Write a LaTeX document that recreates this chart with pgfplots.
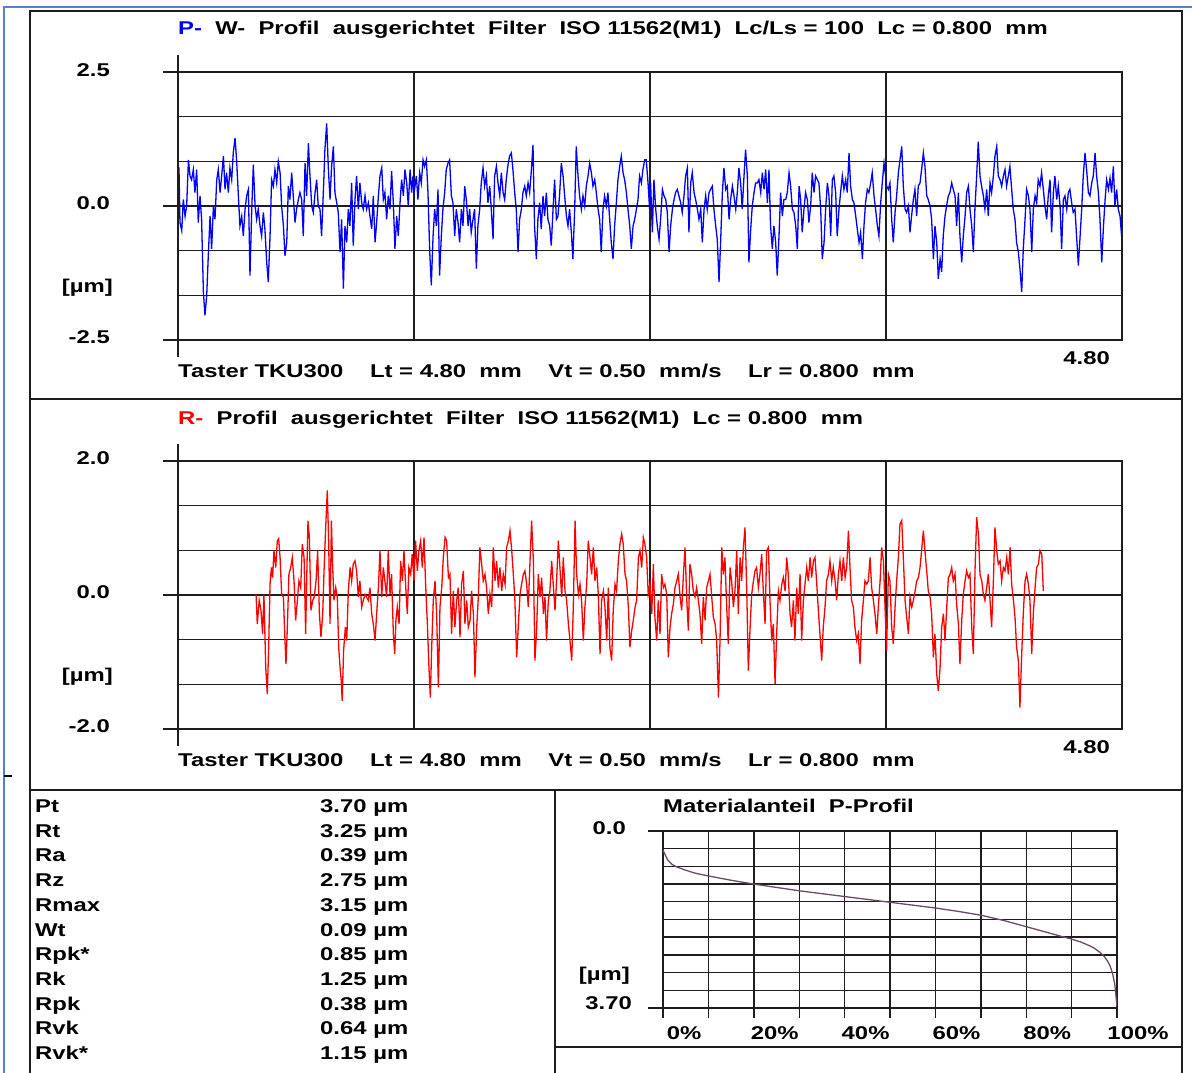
\documentclass[border=0pt]{standalone}
\usepackage{pgfplots}
\pgfplotsset{compat=1.18}
\usepackage{fontspec}
\setmainfont{Liberation Sans}[FakeStretch=1.29]
\definecolor{frameblue}{RGB}{84,130,196}
\definecolor{gridc}{RGB}{30,30,30}
\definecolor{matc}{RGB}{105,75,105}
\definecolor{pblue}{RGB}{0,0,250}
\definecolor{rred}{RGB}{255,0,0}

\begin{document}
\begin{tikzpicture}[font=\bfseries\fontsize{18.5}{22}\selectfont]
\useasboundingbox (0,0) rectangle (1192pt,1073pt);
\fill[white] (0,0) rectangle (1192pt,1073pt);

\pgfplotsset{prof/.style={scale only axis, anchor=south west, width=944pt, height=268pt,
  xmin=0, xmax=4.8, xtick={1.2,2.4,3.6}, xticklabels={}, yticklabels={},
  major tick length=0pt, grid=major, major grid style={gridc, line width=1.6pt},
  axis line style={gridc, line width=1.6pt}, clip=true}}

% ---------------- P profile ----------------
\begin{axis}[prof, at={(178pt,733pt)}, ymin=-2.5, ymax=2.5, ytick={-1.6667,-0.8333,0,0.8333,1.6667}]
\addplot[pblue, line width=1.3pt] coordinates {
(0.000,0.74) (0.005,0.71) (0.010,-0.31) (0.019,-0.46) (0.027,0.12) (0.036,-0.19) (0.044,0.00) (0.053,0.86) (0.061,0.56) (0.069,0.49) (0.078,0.68) (0.086,0.25) (0.095,0.68) (0.103,-0.31) (0.112,0.19) (0.120,-0.25) (0.129,-1.60) (0.137,-2.04) (0.146,-1.67) (0.154,-0.93) (0.163,-0.19) (0.171,-0.80) (0.180,0.00) (0.188,-0.25) (0.197,0.49) (0.205,0.68) (0.214,0.25) (0.222,0.56) (0.231,0.93) (0.239,0.31) (0.247,0.62) (0.256,0.25) (0.264,0.71) (0.273,0.49) (0.281,0.99) (0.290,1.27) (0.298,0.86) (0.307,0.19) (0.315,-0.37) (0.324,-0.19) (0.332,-0.56) (0.341,-0.06) (0.349,0.19) (0.358,0.31) (0.366,-1.30) (0.375,-0.06) (0.383,0.77) (0.392,0.00) (0.400,-0.25) (0.408,-0.06) (0.417,-0.37) (0.425,-0.56) (0.434,-0.12) (0.442,-0.43) (0.451,-1.05) (0.459,-1.42) (0.468,-0.56) (0.476,0.49) (0.485,0.37) (0.493,0.68) (0.502,0.43) (0.510,0.83) (0.519,0.62) (0.527,0.00) (0.536,-0.37) (0.544,-0.93) (0.553,-0.68) (0.561,0.37) (0.569,0.12) (0.578,0.62) (0.586,0.19) (0.595,-0.31) (0.603,-0.06) (0.612,0.12) (0.620,0.25) (0.629,0.12) (0.637,-0.56) (0.646,0.80) (0.654,0.19) (0.663,1.17) (0.671,0.56) (0.680,0.00) (0.688,-0.12) (0.697,0.25) (0.705,0.49) (0.713,0.00) (0.722,-0.06) (0.730,-0.56) (0.739,0.25) (0.747,1.05) (0.756,1.54) (0.764,0.74) (0.773,0.12) (0.781,0.74) (0.790,1.11) (0.798,0.25) (0.807,0.06) (0.815,-0.12) (0.824,-0.86) (0.832,-0.25) (0.841,-1.54) (0.849,-0.37) (0.858,-0.68) (0.866,-0.06) (0.874,-0.37) (0.883,0.43) (0.891,-0.74) (0.900,0.12) (0.908,0.56) (0.917,-0.06) (0.925,0.43) (0.934,0.06) (0.942,-0.06) (0.951,0.19) (0.959,-0.06) (0.968,0.06) (0.976,-0.19) (0.985,-0.43) (0.993,0.19) (1.002,-0.68) (1.010,-0.31) (1.019,0.19) (1.027,0.56) (1.036,0.71) (1.044,0.12) (1.052,0.25) (1.061,-0.25) (1.069,0.19) (1.078,-0.06) (1.086,0.65) (1.095,0.06) (1.103,-0.80) (1.112,-0.19) (1.120,-0.56) (1.129,0.06) (1.137,0.49) (1.146,0.19) (1.154,0.68) (1.163,0.43) (1.171,0.00) (1.180,0.68) (1.188,0.25)
(1.195,0.56) (1.203,0.31) (1.212,0.56) (1.220,0.12) (1.229,0.62) (1.237,0.43) (1.246,0.86) (1.254,0.74) (1.263,0.86) (1.271,0.25) (1.280,-0.86) (1.288,-1.48) (1.297,-0.56) (1.305,-0.06) (1.314,-0.37) (1.322,0.31) (1.330,-1.30) (1.339,-0.56) (1.347,-0.06) (1.356,0.25) (1.364,0.68) (1.373,0.80) (1.381,0.86) (1.390,0.19) (1.398,0.06) (1.407,-0.56) (1.415,-0.06) (1.424,-0.31) (1.432,-0.68) (1.441,-0.06) (1.449,-0.37) (1.458,0.37) (1.466,0.12) (1.475,-0.37) (1.483,-0.06) (1.491,-0.49) (1.500,-0.25) (1.508,-0.06) (1.517,-1.17) (1.525,-0.37) (1.534,-0.06) (1.542,0.43) (1.551,0.71) (1.559,0.37) (1.568,0.56) (1.576,0.06) (1.585,0.37) (1.593,-0.06) (1.602,-0.62) (1.610,0.56) (1.619,0.74) (1.627,0.43) (1.636,0.19) (1.644,0.62) (1.653,0.25) (1.661,0.12) (1.669,0.49) (1.678,0.77) (1.686,0.93) (1.695,0.99) (1.703,0.68) (1.712,0.25) (1.720,-0.06) (1.729,-0.86) (1.737,-0.25) (1.746,-0.06) (1.754,0.25) (1.763,0.37) (1.771,0.19) (1.780,0.43) (1.788,0.25) (1.797,0.68) (1.805,1.14) (1.813,-0.37) (1.822,-0.99) (1.830,-0.25) (1.839,0.06) (1.847,-0.43) (1.856,0.19) (1.864,-0.19) (1.873,0.25) (1.881,-0.25) (1.890,-0.37) (1.898,-0.74) (1.907,-0.06) (1.915,0.49) (1.924,-0.25) (1.932,-0.19) (1.941,0.25) (1.949,0.80) (1.958,0.56) (1.966,0.19) (1.975,-0.19) (1.983,-0.37) (1.991,-0.06) (2.000,-0.49) (2.008,-0.99) (2.017,-0.06) (2.025,1.11) (2.034,0.56) (2.042,0.19) (2.051,-0.06) (2.059,0.19) (2.068,0.00) (2.076,0.37) (2.085,0.56) (2.093,0.80) (2.102,0.62) (2.110,0.37) (2.119,0.49) (2.127,0.25) (2.136,-0.06) (2.144,-0.25) (2.152,-0.86) (2.161,-0.06) (2.169,0.19) (2.178,0.00) (2.186,0.25) (2.195,-0.25) (2.203,-0.68) (2.212,-0.99) (2.220,-0.37) (2.229,0.06) (2.237,0.49) (2.246,0.74) (2.254,0.93) (2.263,0.62) (2.271,0.49) (2.280,0.25) (2.288,-0.06) (2.297,-0.37) (2.305,-0.80) (2.314,-0.37) (2.322,-0.25) (2.331,-0.06) (2.339,0.12) (2.347,0.56) (2.356,0.43) (2.364,0.68) (2.373,0.86) (2.381,0.86) (2.390,0.43) (2.398,-0.06)
(2.403,0.43) (2.412,-0.49) (2.420,0.49) (2.429,-0.06) (2.437,-0.37) (2.446,-0.62) (2.454,-0.25) (2.463,0.31) (2.471,0.19) (2.480,0.12) (2.488,-0.12) (2.497,-0.86) (2.505,-0.37) (2.514,-0.06) (2.522,0.12) (2.530,0.25) (2.539,0.31) (2.547,0.19) (2.556,0.06) (2.564,-0.12) (2.573,0.19) (2.581,0.56) (2.590,0.71) (2.598,-0.49) (2.607,0.43) (2.615,0.62) (2.624,0.25) (2.632,0.12) (2.641,-0.06) (2.649,-0.25) (2.658,-0.06) (2.666,-0.68) (2.675,-0.06) (2.683,0.19) (2.691,-0.06) (2.700,0.25) (2.708,0.31) (2.717,0.37) (2.725,-0.06) (2.734,-0.37) (2.742,-0.62) (2.751,-1.42) (2.759,-0.68) (2.768,0.25) (2.776,0.71) (2.785,0.31) (2.793,0.37) (2.802,-0.25) (2.810,0.12) (2.819,0.37) (2.827,0.19) (2.836,-0.06) (2.844,0.25) (2.852,0.71) (2.861,0.43) (2.869,-0.06) (2.878,0.56) (2.886,1.05) (2.895,0.56) (2.903,-1.05) (2.912,-0.43) (2.920,0.00) (2.929,0.25) (2.937,0.43) (2.946,0.43) (2.954,0.49) (2.963,0.25) (2.971,0.62) (2.980,0.31) (2.988,0.68) (2.997,0.06) (3.005,0.68) (3.013,-0.37) (3.022,-0.80) (3.030,-0.37) (3.039,-0.68) (3.047,-1.30) (3.056,-0.56) (3.064,0.25) (3.073,-0.19) (3.081,0.12) (3.090,0.12) (3.098,0.25) (3.107,0.62) (3.115,0.37) (3.124,-0.06) (3.132,-0.12) (3.141,-0.37) (3.149,-0.80) (3.158,0.37) (3.166,0.12) (3.174,-0.49) (3.183,-0.06) (3.191,0.25) (3.200,0.12) (3.208,-0.31) (3.217,0.00) (3.225,0.62) (3.234,0.25) (3.242,0.56) (3.251,0.49) (3.259,0.43) (3.268,-0.06) (3.276,-0.99) (3.285,-0.68) (3.293,-0.06) (3.302,0.43) (3.310,0.19) (3.319,-0.56) (3.327,0.49) (3.335,0.56) (3.344,0.25) (3.352,-0.56) (3.361,-0.06) (3.369,0.25) (3.378,0.56) (3.386,0.31) (3.395,0.49) (3.403,0.25) (3.412,0.99) (3.420,0.37) (3.429,0.12) (3.437,0.06) (3.446,-0.19) (3.454,-0.43) (3.463,-0.68) (3.471,-0.49) (3.480,-0.99) (3.488,-0.37) (3.496,0.06) (3.505,0.31) (3.513,0.25) (3.522,0.43) (3.530,0.62) (3.539,0.19) (3.547,-0.06) (3.556,-0.37) (3.564,-0.56) (3.573,0.06) (3.581,0.43) (3.590,0.80) (3.598,0.56)
(3.603,0.37) (3.612,0.31) (3.620,0.43) (3.629,-0.25) (3.637,-0.68) (3.646,-0.12) (3.654,0.19) (3.663,0.62) (3.671,0.86) (3.680,1.11) (3.688,0.37) (3.697,-0.06) (3.705,-0.12) (3.714,0.00) (3.722,-0.49) (3.730,-0.19) (3.739,0.12) (3.747,0.31) (3.756,-0.19) (3.764,0.37) (3.773,0.43) (3.781,0.68) (3.790,0.99) (3.798,0.74) (3.807,0.19) (3.815,0.12) (3.824,0.00) (3.832,-0.25) (3.841,-0.99) (3.849,-0.37) (3.858,-0.68) (3.866,-1.36) (3.875,-0.99) (3.883,-1.23) (3.891,-0.56) (3.900,-0.19) (3.908,0.00) (3.917,0.19) (3.925,0.25) (3.934,0.43) (3.942,0.31) (3.951,0.19) (3.959,-0.37) (3.968,0.25) (3.976,-0.56) (3.985,-1.05) (3.993,-0.56) (4.002,-0.19) (4.010,0.25) (4.019,0.37) (4.027,-0.06) (4.036,-0.37) (4.044,-0.86) (4.052,-0.06) (4.061,0.56) (4.069,1.20) (4.078,0.56) (4.086,0.37) (4.095,0.19) (4.103,-0.06) (4.112,0.31) (4.120,-0.19) (4.129,0.43) (4.137,0.25) (4.146,0.56) (4.154,0.93) (4.163,1.11) (4.171,0.56) (4.180,0.49) (4.188,0.37) (4.197,0.56) (4.205,0.68) (4.213,0.37) (4.222,0.56) (4.230,0.74) (4.239,0.31) (4.247,-0.06) (4.256,-0.25) (4.264,-0.68) (4.273,-0.86) (4.281,-1.17) (4.290,-1.60) (4.298,-0.80) (4.307,-0.25) (4.315,0.31) (4.324,0.19) (4.332,-0.06) (4.341,-0.86) (4.349,-0.06) (4.358,0.19) (4.366,0.06) (4.374,0.49) (4.383,0.37) (4.391,0.62) (4.400,0.31) (4.408,0.00) (4.417,-0.25) (4.425,0.19) (4.434,0.49) (4.442,-0.49) (4.451,0.25) (4.459,0.56) (4.468,0.12) (4.476,0.37) (4.485,0.00) (4.493,-0.80) (4.502,0.12) (4.510,0.19) (4.519,-0.06) (4.527,0.25) (4.535,0.31) (4.544,0.06) (4.552,-0.12) (4.561,-0.06) (4.569,-0.56) (4.578,-1.11) (4.586,-0.62) (4.595,-0.06) (4.603,0.56) (4.612,0.99) (4.620,0.68) (4.629,0.25) (4.637,0.19) (4.646,0.43) (4.654,0.56) (4.663,0.99) (4.671,0.56) (4.680,0.25) (4.688,-0.25) (4.697,-1.05) (4.705,-0.43) (4.714,0.12) (4.722,0.49) (4.731,0.31) (4.739,0.52) (4.747,0.25) (4.756,0.74) (4.764,0.00) (4.773,0.31) (4.781,-0.06) (4.790,-0.19) (4.798,-0.56)
};
\end{axis}

% ---------------- R profile ----------------
\begin{axis}[prof, at={(178pt,344pt)}, ymin=-2.0, ymax=2.0, ytick={-1.3333,-0.6667,0,0.6667,1.3333}]
\addplot[rred, line width=1.3pt] coordinates {
(0.397,0.01) (0.403,-0.43) (0.413,-0.08) (0.422,-0.23) (0.430,-0.58) (0.437,0.01) (0.446,-1.08) (0.454,-1.48) (0.461,-0.78) (0.468,0.16) (0.475,0.41) (0.481,0.26) (0.488,0.66) (0.497,0.41) (0.505,0.81) (0.512,0.84) (0.519,0.56) (0.527,0.01) (0.536,-0.03) (0.544,-0.68) (0.549,-1.03) (0.556,-0.48) (0.564,0.31) (0.573,0.41) (0.581,0.56) (0.590,0.21) (0.598,-0.38) (0.607,-0.08) (0.615,0.21) (0.624,0.11) (0.632,0.76) (0.641,0.56) (0.649,-0.58) (0.656,0.46) (0.661,1.11) (0.668,0.86) (0.676,-0.23) (0.685,-0.08) (0.693,-0.03) (0.702,0.21) (0.710,0.66) (0.719,-0.28) (0.727,-0.63) (0.736,-0.28) (0.742,0.31) (0.751,1.01) (0.759,1.56) (0.766,0.81) (0.773,-0.43) (0.780,1.11) (0.786,0.46) (0.793,-0.08) (0.802,0.11) (0.810,-0.03) (0.817,-0.78) (0.824,-1.08) (0.830,-1.28) (0.835,-1.58) (0.842,-0.83) (0.851,-0.48) (0.858,-0.68) (0.866,0.06) (0.875,0.41) (0.883,0.21) (0.891,0.46) (0.900,0.51) (0.908,0.36) (0.917,-0.03) (0.925,0.21) (0.934,-0.18) (0.942,-0.08) (0.951,0.01) (0.959,-0.03) (0.968,-0.08) (0.976,0.11) (0.985,-0.28) (0.993,-0.43) (1.002,-0.68) (1.010,-0.28) (1.019,0.11) (1.027,0.66) (1.036,-0.03) (1.044,0.41) (1.052,0.21) (1.061,-0.03) (1.069,0.66) (1.078,0.01) (1.086,0.31) (1.095,-0.58) (1.102,-0.88) (1.108,-0.38) (1.115,-0.18) (1.124,-0.43) (1.132,0.51) (1.141,0.21) (1.149,0.66) (1.158,0.11) (1.166,-0.28) (1.174,0.41) (1.183,0.31) (1.191,0.61) (1.200,0.21) (1.208,0.81) (1.217,0.36) (1.225,0.66) (1.234,0.81) (1.242,0.41) (1.251,0.86) (1.259,0.16) (1.268,-0.43) (1.276,-1.08) (1.283,-1.53) (1.290,-0.78) (1.298,-0.08) (1.307,0.21) (1.315,-0.28) (1.324,-1.38) (1.332,-0.18) (1.341,0.11) (1.349,0.56) (1.358,0.86) (1.366,0.81) (1.375,0.26) (1.383,0.31) (1.391,-0.58) (1.400,0.06) (1.408,-0.48) (1.417,-0.08) (1.425,0.11) (1.434,-0.63) (1.442,0.16) (1.451,0.36) (1.459,-0.43) (1.468,-0.08) (1.476,-0.48) (1.485,-0.38) (1.493,0.06) (1.502,-0.28) (1.510,-1.23) (1.519,-0.48) (1.527,-0.03) (1.535,0.71) (1.544,0.46) (1.552,0.21) (1.561,0.31) (1.569,0.11) (1.578,-0.28) (1.586,0.01) (1.595,-0.18) (1.603,0.71) (1.612,0.21) (1.620,0.51) (1.629,0.11) (1.637,0.41) (1.646,0.06) (1.654,0.31) (1.663,0.16) (1.671,0.71) (1.680,0.81) (1.688,0.96) (1.697,0.66) (1.705,0.31) (1.713,-0.08) (1.722,-0.93) (1.730,-0.48) (1.739,0.01) (1.747,0.16) (1.756,0.31) (1.764,0.36) (1.773,0.16) (1.781,-0.18) (1.790,0.51) (1.798,1.11) (1.807,0.51) (1.815,-0.98) (1.824,-0.48) (1.832,0.31) (1.841,-0.03) (1.849,0.26) (1.858,-0.28) (1.866,-0.03) (1.874,-0.68) (1.883,-0.08) (1.891,0.06) (1.900,0.51) (1.908,0.16) (1.917,-0.23) (1.925,0.21) (1.934,0.81) (1.942,0.41) (1.951,-0.03) (1.959,0.56) (1.968,0.06) (1.976,-0.08) (1.985,-0.43) (1.993,-0.68) (2.002,-0.98) (2.010,-0.18) (2.019,1.11) (2.027,0.31) (2.036,0.01) (2.044,0.16) (2.052,-0.08) (2.061,-0.68) (2.069,-0.18) (2.078,0.16) (2.086,0.81) (2.095,0.56) (2.103,0.31) (2.112,0.71) (2.120,0.21) (2.129,0.41) (2.137,0.01) (2.146,-0.88) (2.154,-0.08) (2.163,0.06) (2.171,-0.18) (2.180,-0.68) (2.188,0.11) (2.196,-0.78) (2.205,-0.98) (2.213,-0.23) (2.222,0.16) (2.230,0.06) (2.239,0.51) (2.247,0.76) (2.256,0.91) (2.264,0.76) (2.273,0.31) (2.281,0.21) (2.290,-0.18) (2.298,-0.78) (2.307,-0.53) (2.315,-0.38) (2.324,-0.18) (2.332,-0.08) (2.341,0.56) (2.349,0.66) (2.358,0.41) (2.366,0.86) (2.374,0.76) (2.383,0.56) (2.391,0.01)
(2.400,0.16) (2.409,-0.28) (2.417,0.46) (2.425,-0.33) (2.434,-0.68) (2.442,-0.08) (2.451,-0.58) (2.459,0.31) (2.468,0.11) (2.476,0.16) (2.485,0.01) (2.493,-0.93) (2.502,-0.48) (2.510,-0.28) (2.519,-0.13) (2.527,0.11) (2.536,0.21) (2.544,0.31) (2.553,-0.03) (2.561,-0.23) (2.570,0.31) (2.578,0.71) (2.587,-0.08) (2.595,-0.53) (2.603,0.46) (2.612,0.31) (2.620,0.06) (2.629,-0.03) (2.637,0.11) (2.646,-0.08) (2.654,-0.28) (2.663,-0.73) (2.671,-0.03) (2.680,-0.38) (2.688,0.11) (2.697,0.21) (2.705,0.31) (2.714,-0.03) (2.722,-0.33) (2.731,-0.43) (2.739,-0.68) (2.748,-1.53) (2.756,-0.68) (2.765,0.71) (2.773,0.31) (2.781,0.56) (2.790,-0.18) (2.798,-0.73) (2.807,0.41) (2.815,0.21) (2.824,-0.18) (2.832,0.06) (2.841,0.66) (2.849,-0.28) (2.858,0.56) (2.866,0.21) (2.875,0.71) (2.883,1.01) (2.892,0.06) (2.900,-1.13) (2.909,-0.48) (2.917,0.01) (2.926,0.21) (2.934,0.36) (2.942,0.41) (2.951,0.11) (2.959,0.31) (2.968,0.61) (2.976,0.06) (2.985,-0.43) (2.993,0.66) (3.002,0.71) (3.010,-0.08) (3.019,-0.68) (3.027,-0.43) (3.036,-1.33) (3.044,-0.58) (3.053,0.06) (3.061,-0.08) (3.070,0.16) (3.078,0.26) (3.087,0.06) (3.095,0.56) (3.103,0.31) (3.112,-0.28) (3.120,-0.48) (3.129,-0.08) (3.137,-0.68) (3.146,0.11) (3.154,-0.28) (3.163,0.31) (3.171,-0.68) (3.180,-0.08) (3.188,0.16) (3.197,0.41) (3.205,0.21) (3.214,0.56) (3.222,0.26) (3.231,0.51) (3.239,0.56) (3.248,0.16) (3.256,-0.23) (3.264,-0.58) (3.273,-0.98) (3.281,-0.48) (3.290,-0.18) (3.298,0.21) (3.307,0.31) (3.315,0.51) (3.324,0.21) (3.332,0.41) (3.341,0.21) (3.349,-0.08) (3.358,0.31) (3.366,0.51) (3.375,0.21) (3.383,0.56) (3.392,0.26) (3.400,0.41) (3.409,0.96) (3.417,0.41) (3.425,-0.08) (3.434,-0.18) (3.442,-0.48) (3.451,-0.68) (3.459,-0.58) (3.468,-1.03) (3.476,-0.38) (3.485,-0.08) (3.493,0.21) (3.502,0.16) (3.510,0.21) (3.519,0.56) (3.527,0.11) (3.536,-0.08) (3.544,-0.28) (3.553,-0.58) (3.561,-0.18) (3.570,0.21) (3.578,0.71) (3.587,0.51) (3.595,-0.18) (3.603,-0.83) (3.612,0.31) (3.620,0.21) (3.629,-0.48) (3.637,-0.73) (3.646,-0.18) (3.654,0.21) (3.663,0.56) (3.671,1.06) (3.680,1.11) (3.688,0.56) (3.697,-0.08) (3.705,-0.33) (3.714,-0.58) (3.722,-0.03) (3.731,-0.18) (3.739,-0.08) (3.748,0.06) (3.756,0.21) (3.765,0.26) (3.773,0.41) (3.781,0.66) (3.790,0.96) (3.798,0.66) (3.807,0.36) (3.815,0.06) (3.824,-0.03) (3.832,-0.28) (3.841,-0.93) (3.849,-0.58) (3.858,-1.18) (3.866,-1.43) (3.875,-1.08) (3.883,-0.48) (3.892,-0.28) (3.900,-0.68) (3.909,-0.18) (3.917,0.26) (3.926,0.31) (3.934,0.41) (3.942,0.21) (3.951,0.31) (3.959,-0.13) (3.968,-0.43) (3.976,-1.03) (3.985,-0.38) (3.993,0.01) (4.002,0.21) (4.010,0.36) (4.019,0.26) (4.027,0.31) (4.036,-0.48) (4.044,-0.88) (4.053,0.41) (4.061,1.16) (4.070,0.91) (4.078,0.31) (4.087,0.21) (4.095,0.01) (4.103,-0.08) (4.112,0.11) (4.120,0.31) (4.129,-0.08) (4.137,-0.48) (4.146,0.21) (4.154,1.01) (4.163,0.66) (4.171,0.46) (4.180,0.51) (4.188,0.21) (4.197,0.41) (4.205,0.36) (4.214,0.56) (4.222,0.31) (4.231,0.71) (4.239,0.16) (4.248,-0.08) (4.256,-0.33) (4.264,-0.78) (4.273,-0.98) (4.281,-1.68) (4.290,-0.88) (4.298,-0.28) (4.307,0.21) (4.315,0.31) (4.324,0.16) (4.332,-0.08) (4.341,-0.88) (4.349,-0.28) (4.358,0.11) (4.366,0.41) (4.375,0.46) (4.383,0.66) (4.392,0.61) (4.400,0.06)
};
\end{axis}

% ---------------- Material ratio ----------------
\begin{axis}[scale only axis, anchor=south west, at={(663pt,65pt)}, width=454pt, height=177pt,
  xmin=0, xmax=100, ymin=0, ymax=3.7, y dir=reverse,
  xtick={10,20,30,40,50,60,70,80,90}, ytick={0.37,0.74,1.11,1.48,1.85,2.22,2.59,2.96,3.33},
  xticklabels={}, yticklabels={}, major tick length=0pt, grid=major,
  major grid style={gridc, line width=1.4pt}, axis line style={gridc, line width=1.4pt}]
\addplot[matc, line width=1.3pt] coordinates {
(0,0.40) (0.5,0.50) (1,0.60) (2,0.70) (3,0.75) (5,0.82) (7,0.88) (10,0.94) (15,1.03) (20,1.11) (25,1.18) (30,1.25) (35,1.31) (40,1.37) (45,1.43) (50,1.49) (55,1.55) (60,1.61) (65,1.68) (70,1.76) (75,1.87) (80,2.00) (85,2.13) (88,2.21) (90,2.26) (92,2.32) (94,2.40) (95,2.45) (96,2.52) (97,2.60) (98,2.73) (98.5,2.83) (99,2.97) (99.5,3.20) (100,3.67)
};
\end{axis}

% ---------------- frames, extra ticks, texts ----------------
\begin{scope}[x=1pt, y=-1pt, yshift=1073pt, every node/.style={inner sep=0pt}]
  % screenshot border
  \draw[frameblue, line width=1.6pt] (4,1073) -- (4,7) -- (1192,7);
  \draw[black, line width=1.2pt] (4,776) -- (12,776);
  % report frame
  \draw[gridc, line width=1.9pt] (30,1073) -- (30,11) -- (1182,11) -- (1182,1073);
  \draw[gridc, line width=1.9pt] (30,399) -- (1182,399);
  \draw[gridc, line width=1.9pt] (30,790) -- (1182,790);
  \draw[gridc, line width=1.6pt] (555,790) -- (555,1073);
  \draw[gridc, line width=1.6pt] (555,1047) -- (1182,1047);
  % y axis extensions and stubs
  \draw[gridc, line width=1.6pt] (178,55) -- (178,357);
  \foreach \yy in {72,206,340} \draw[gridc, line width=1.6pt] (163,\yy) -- (178,\yy);
  \draw[gridc, line width=1.6pt] (178,444) -- (178,746);
  \foreach \yy in {461,595,729} \draw[gridc, line width=1.6pt] (163,\yy) -- (178,\yy);
  \foreach \yy in {831,1008} \draw[gridc, line width=1.4pt] (648,\yy) -- (663,\yy);
  \foreach \k in {0,...,10} \draw[gridc, line width=1.4pt] (663+45.4*\k,1008) -- (663+45.4*\k,1018);

  % top panel texts
  \node[anchor=base west] at (178,34.6) {\textcolor{pblue}{P-}\ \ W-\ \ Profil\ \ ausgerichtet\ \ Filter\ \ ISO 11562(M1)\ \ Lc/Ls = 100\ \ Lc = 0.800\ \ mm};
  \node[anchor=base east] at (110,76.6) {2.5};
  \node[anchor=base east] at (110,209.6) {0.0};
  \node[anchor=base east] at (113,293) {[µm]};
  \node[anchor=base east] at (110,343.6) {-2.5};
  \node[anchor=base east] at (1110,364.6) {4.80};
  \node[anchor=base west] at (178,377.6) {Taster TKU300\ \ \ \ Lt = 4.80\ \ mm\ \ \ \ Vt = 0.50\ \ mm/s\ \ \ \ Lr = 0.800\ \ mm};

  % middle panel texts
  \node[anchor=base west] at (178,424.6) {\textcolor{rred}{R-}\ \ Profil\ \ ausgerichtet\ \ Filter\ \ ISO 11562(M1)\ \ Lc = 0.800\ \ mm};
  \node[anchor=base east] at (110,464.6) {2.0};
  \node[anchor=base east] at (110,598.6) {0.0};
  \node[anchor=base east] at (113,682) {[µm]};
  \node[anchor=base east] at (110,732.6) {-2.0};
  \node[anchor=base east] at (1110,753.6) {4.80};
  \node[anchor=base west] at (178,766.6) {Taster TKU300\ \ \ \ Lt = 4.80\ \ mm\ \ \ \ Vt = 0.50\ \ mm/s\ \ \ \ Lr = 0.800\ \ mm};

  % parameter table
  \foreach \n/\v [count=\i from 0] in {Pt/3.70,Rt/3.25,Ra/0.39,Rz/2.75,Rmax/3.15,Wt/0.09,Rpk*/0.85,Rk/1.25,Rpk/0.38,Rvk/0.64,Rvk*/1.15} {
    \node[anchor=base west] at (35,812.6+24.7*\i) {\n};
    \node[anchor=base west] at (320,812.6+24.7*\i) {\v\ µm};
  }

  % material ratio texts
  \node[anchor=base west] at (663,812.6) {Materialanteil\ \ P-Profil};
  \node[anchor=base east] at (626,834.6) {0.0};
  \node[anchor=base east] at (630,981) {[µm]};
  \node[anchor=base east] at (632,1009.6) {3.70};
  \foreach \p [count=\j from 0] in {0,20,40,60,80,100}
    \node[anchor=base] at (684+90.8*\j,1039.6) {\p\%};
\end{scope}
\end{tikzpicture}
\end{document}
